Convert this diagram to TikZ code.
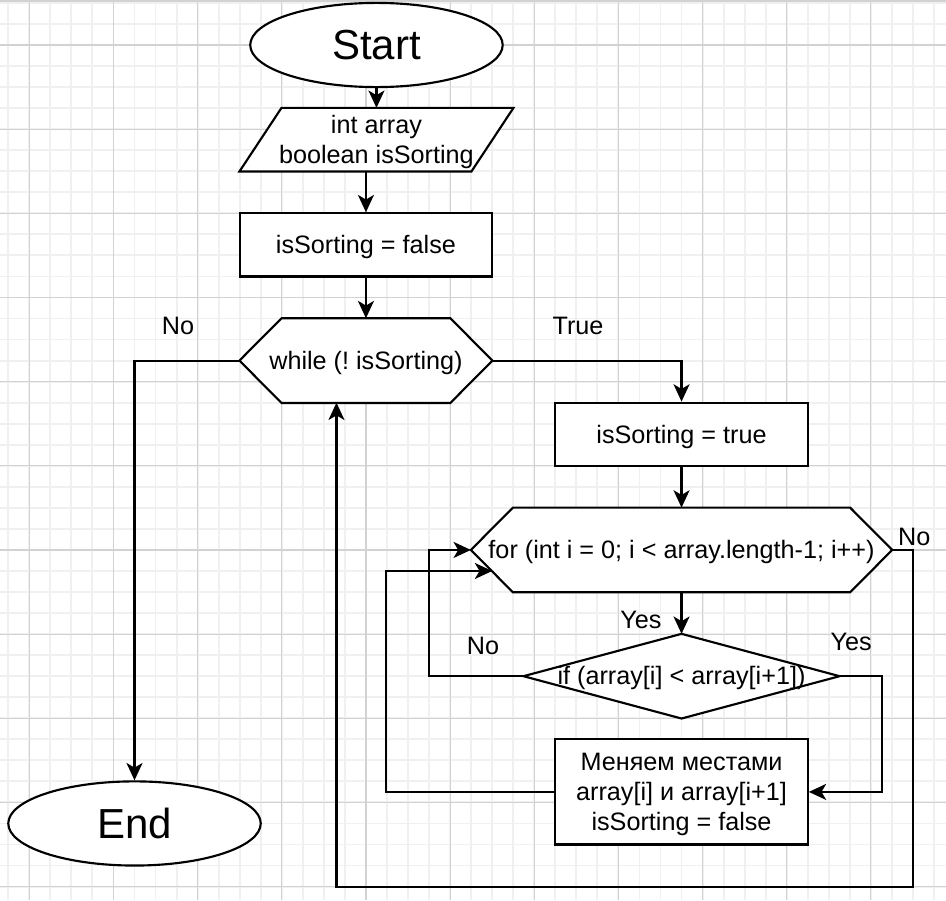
\documentclass[tikz,border=0pt]{standalone}
\usepackage{fontspec}
\setmainfont{Liberation Sans}
\usetikzlibrary{arrows.meta,calc,shapes.geometric,backgrounds}
\definecolor{gridminor}{RGB}{240,240,240}
\definecolor{gridmajor}{RGB}{210,210,210}
\newcommand\dntext[1]{\raisebox{-2.1pt}[\height][\depth]{\begin{tabular}{@{}c@{}}#1\end{tabular}}}
\frenchspacing
\begin{document}
\frenchspacing
\begin{tikzpicture}[x=15.78pt,y=-15.78pt,
  txt/.style={font=\fontsize{18.9}{22.5}\selectfont, align=center, inner sep=0pt},
  big/.style={font=\fontsize{31.5}{36}\selectfont, inner sep=0pt},
  sz/.style 2 args={minimum width={#1*15.78pt}, minimum height={#2*15.78pt}},
  shp/.style={draw=black, line width=1.6pt, fill=white, line join=miter},
  arr/.style={line width=1.6pt, -{Stealth[length=13pt,width=12pt,inset=3.5pt]}},
  lbl/.style={font=\fontsize{18.9}{22.5}\selectfont, inner sep=0pt},
  minorln/.style={gridminor, line width=1.4pt},
  majorln/.style={gridmajor, line width=0.9pt}
]
\useasboundingbox (-1.393,-2.139) rectangle (43.57,40.64);
\begin{pgfonlayer}{background}
  \fill[white] (-1.393,-2.139) rectangle (43.57,40.64);
  \foreach \i in {-1,...,43} \draw[minorln] (\i,-2.139) -- (\i,40.64);
  \foreach \j in {-2,...,40} \draw[minorln] (-1.393,\j) -- (43.57,\j);
  \foreach \i in {0,4,...,40} \draw[majorln] (\i,-2.139) -- (\i,40.64);
  \foreach \j in {0,4,...,40} \draw[majorln] (-1.393,\j) -- (43.57,\j);
  \draw[gridmajor, line width=2pt] (-1.393,-2.09) -- (43.57,-2.09);
\end{pgfonlayer}

% nodes
\node[shp, ellipse, sz={12}{4}, big] (start) at (16.5,0) {Start};
\node[txt, sz={13}{3}] (inp) at (16.5,4.5) {\dntext{int array\\boolean isSorting}};
\node[shp, txt, sz={12}{3}] (f) at (16,9.5) {\dntext{isSorting = false}};
\node[txt, sz={12}{4}] (while) at (16,15) {\dntext{while (! isSorting)}};
\node[shp, txt, sz={12}{3}] (t) at (31,18.5) {\dntext{isSorting = true}};
\node[txt, sz={20}{4}] (for) at (31,24) {\dntext{for (int i = 0; i < array.length-1; i++)}};
\node[txt, sz={15}{4}] (if) at (31,30) {\dntext{if (array[i] < array[i+1])}};
\node[shp, txt, sz={12}{5}] (swap) at (31,35.5) {\dntext{Меняем местами\\array[i] и array[i+1]\\isSorting = false}};
\node[shp, ellipse, sz={12}{4}, big] (end) at (5,37) {End};
\coordinate (forin) at (22,25);
\coordinate (whilein) at (14.6,17);

\begin{pgfonlayer}{background}
  \draw[shp] ($(inp.north west)+(2,0)$) -- (inp.north east) -- ($(inp.south east)+(-2,0)$) -- (inp.south west) -- cycle;
  \draw[shp] (while.west) -- ($(while.north west)+(2,0)$) -- ($(while.north east)+(-2,0)$) -- (while.east) -- ($(while.south east)+(-2,0)$) -- ($(while.south west)+(2,0)$) -- cycle;
  \draw[shp] (for.west) -- ($(for.north west)+(2,0)$) -- ($(for.north east)+(-2,0)$) -- (for.east) -- ($(for.south east)+(-2,0)$) -- ($(for.south west)+(2,0)$) -- cycle;
  \draw[shp] (if.west) -- (if.north) -- (if.east) -- (if.south) -- cycle;
\end{pgfonlayer}

% connectors
\draw[arr] (start.south) -- (inp.north);
\draw[arr] (inp.south -| f.north) -- (f.north);
\draw[arr] (f.south) -- (while.north);
\draw[arr] (while.west) -| (end.north);
\draw[arr] (while.east) -| (t.north);
\draw[arr] (t.south) -- (for.north);
\draw[arr] (for.south) -- (if.north);
\draw[arr] (if.west) -- ++(-4.5,0) |- (for.west);
\draw[arr] (if.east) -- ++(2,0) |- (swap.east);
\draw[arr] (swap.west) -- ++(-8,0) |- (forin);
\draw[arr] (for.east) -- ++(1,0) -- ++(0,16) -| (whilein);

% labels
\node[lbl] (lno1) at (7.07,13.35) {No};
\node[lbl] (ltrue) at (26.08,13.35) {True};
\node[lbl] (lno2) at (42.06,23.36) {No};
\node[lbl] (lyes1) at (29.07,27.33) {Yes};
\node[lbl] (lno3) at (21.56,28.55) {No};
\node[lbl] (lyes2) at (39.06,28.35) {Yes};
\end{tikzpicture}
\end{document}
